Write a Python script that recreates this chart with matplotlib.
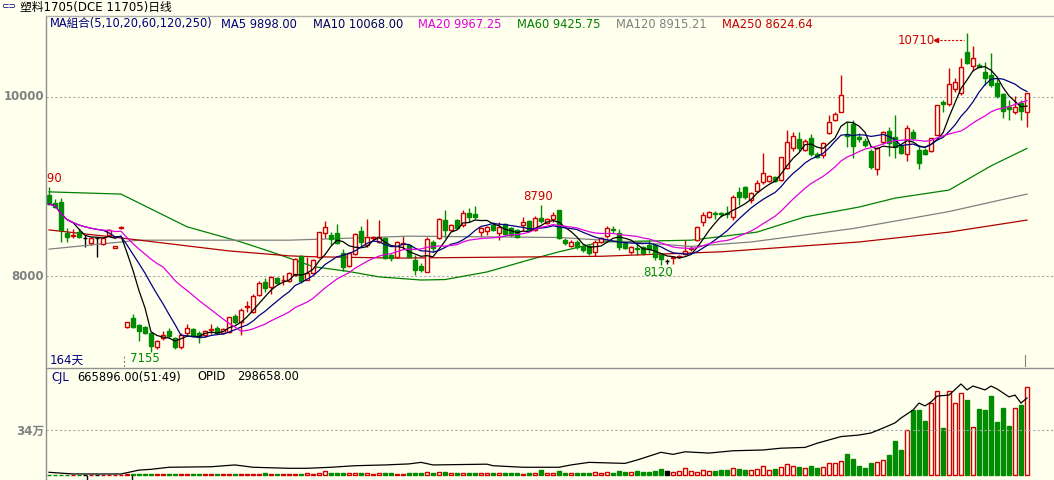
import matplotlib
matplotlib.use('Agg')
import matplotlib.pyplot as plt
from matplotlib.patches import Rectangle
from matplotlib.transforms import ScaledTranslation
import numpy as np
import pandas as pd

plt.rcParams['font.family'] = ['DejaVu Sans', 'Noto Sans CJK SC']

W, H = 1054, 480
BG = '#FFFFEE'
RED = '#D00000'
GREEN = '#008C00'

# daily OHLC, 164 trading days
opens = [8905, 8815, 8826, 8480, 8450, 8490, 8430, 8370, 8420, 8360, 8460, 8315, 8535,
         7430, 7530, 7450, 7430, 7365, 7205, 7310, 7385, 7310, 7205, 7365, 7410, 7365, 7340, 7400, 7420, 7365,
         7375, 7555, 7485, 7650, 7600, 7790, 7930, 7875, 7975, 7950, 7945, 8010, 8225, 7960, 8030, 8210,
         8480, 8460, 8480, 8255, 8110, 8245, 8500, 8345, 8420, 8380, 8425, 8235, 8210, 8360, 8345, 8180,
         8110, 8045, 8380, 8425, 8625, 8515, 8625, 8570, 8705, 8690, 8490, 8500, 8570, 8480, 8580, 8535,
         8515, 8570, 8615, 8515, 8650, 8590, 8635, 8735, 8400, 8335, 8380, 8335, 8335, 8270, 8380, 8445,
         8520, 8480, 8370, 8270, 8310, 8325, 8345, 8345, 8235, 8165, 8200, 8215, 8245, 8300, 8400, 8600,
         8660, 8700, 8700, 8700, 8660, 8940, 8995, 8850, 8950, 9050, 9060, 9105, 9070, 9205, 9430, 9530,
         9410, 9540, 9365, 9350, 9600, 9740, 9830, 9585, 9700, 9550, 9510, 9400, 9195, 9500, 9620, 9550,
         9450, 9365, 9610, 9410, 9410, 9395, 9575, 9945, 9920, 10090, 10045, 10500, 10345, 10360, 10280,
         10245, 10155, 10030, 9890, 9830, 9935, 9830]
highs = [8990, 8860, 8870, 8535, 8520, 8520, 8460, 8440, 8430, 8430, 8520, 8335, 8555,
         7490, 7575, 7460, 7440, 7370, 7290, 7380, 7420, 7320, 7360, 7460, 7420, 7380, 7400, 7460, 7440, 7420,
         7545, 7580, 7640, 7720, 7800, 7940, 7975, 8000, 7990, 8010, 8050, 8200, 8235, 8210, 8190, 8495,
         8610, 8490, 8580, 8300, 8265, 8480, 8560, 8635, 8450, 8620, 8440, 8245, 8390, 8450, 8360, 8230,
         8140, 8435, 8400, 8650, 8735, 8580, 8640, 8740, 8760, 8780, 8550, 8560, 8600, 8600, 8590, 8550,
         8530, 8660, 8630, 8670, 8790, 8650, 8710, 8740, 8420, 8400, 8400, 8350, 8345, 8400, 8440, 8560,
         8560, 8520, 8390, 8340, 8370, 8340, 8400, 8360, 8250, 8190, 8225, 8240, 8400, 8335, 8555, 8710,
         8730, 8730, 8720, 8785, 8905, 8990, 9010, 8935, 9070, 9375, 9125, 9120, 9335, 9630, 9610, 9610,
         9530, 9590, 9380, 9500, 9800, 9830, 10245, 9720, 9745, 9600, 9540, 9420, 9440, 9620, 9660, 9800,
         9460, 9690, 9640, 9450, 9430, 9545, 9910, 9965, 10320, 10210, 10435, 10710, 10570, 10380, 10390,
         10490, 10210, 10040, 9965, 10010, 9965, 10045]
lows = [8795, 8760, 8380, 8380, 8420, 8420, 8320, 8350, 8210, 8350, 8450, 8310, 8530,
        7420, 7420, 7275, 7350, 7155, 7180, 7290, 7310, 7180, 7180, 7330, 7320, 7250, 7320, 7350, 7350, 7350,
        7360, 7460, 7340, 7600, 7590, 7780, 7820, 7800, 7910, 7900, 7930, 8000, 7920, 7950, 8020, 8200,
        8420, 8350, 8360, 8055, 8100, 8240, 8320, 8320, 8400, 8370, 8190, 8170, 8200, 8300, 8200, 8010,
        8040, 8040, 8270, 8410, 8420, 8500, 8520, 8550, 8600, 8640, 8440, 8460, 8500, 8400, 8450, 8440,
        8420, 8500, 8500, 8500, 8590, 8580, 8600, 8410, 8350, 8320, 8300, 8270, 8240, 8220, 8370, 8430,
        8480, 8290, 8300, 8250, 8240, 8240, 8260, 8180, 8120, 8135, 8130, 8200, 8235, 8280, 8390, 8560,
        8650, 8640, 8660, 8650, 8620, 8790, 8855, 8815, 8940, 9030, 9050, 9050, 9065, 9190, 9400, 9400,
        9400, 9340, 9320, 9320, 9590, 9730, 9830, 9440, 9320, 9500, 9440, 9200, 9130, 9480, 9340, 9320,
        9360, 9290, 9520, 9190, 9350, 9385, 9570, 9830, 9900, 10060, 10020, 10370, 10290, 10330, 10130,
        10110, 9990, 9765, 9740, 9810, 9740, 9665]
closes = [8804, 8770, 8514, 8435, 8460, 8435, 8430, 8420, 8420, 8420, 8515, 8330, 8550,
          7485, 7430, 7385, 7365, 7220, 7275, 7340, 7330, 7205, 7340, 7420, 7330, 7320, 7385, 7410, 7365, 7410,
          7540, 7485, 7620, 7660, 7775, 7920, 7865, 7990, 7920, 7960, 8030, 8190, 7945, 8030, 8180, 8490,
          8545, 8415, 8370, 8100, 8255, 8470, 8380, 8435, 8435, 8435, 8200, 8200, 8380, 8370, 8210, 8070,
          8070, 8415, 8310, 8640, 8515, 8570, 8535, 8705, 8660, 8660, 8535, 8545, 8515, 8545, 8470, 8460,
          8435, 8600, 8515, 8650, 8615, 8635, 8680, 8425, 8365, 8380, 8325, 8290, 8255, 8380, 8425, 8535,
          8510, 8325, 8310, 8325, 8300, 8255, 8300, 8210, 8190, 8165, 8215, 8225, 8280, 8315, 8550, 8680,
          8715, 8690, 8690, 8690, 8885, 8885, 8885, 8925, 9040, 9150, 9115, 9060, 9330, 9500, 9565, 9430,
          9510, 9365, 9330, 9485, 9720, 9810, 10020, 9565, 9450, 9530, 9465, 9220, 9430, 9610, 9485, 9440,
          9375, 9650, 9540, 9260, 9365, 9540, 9910, 9920, 10145, 10170, 10335, 10380, 10435, 10335, 10210,
          10135, 10010, 9845, 9865, 9890, 9845, 10045]
volumes = [1200, 900, 1500, 800, 700, 900, 600, 800, 1000, 700, 900, 400, 500,
           5000, 7000, 6500, 6000, 9000, 7000, 6000, 5500, 7000, 6500, 6000, 7000, 6000, 5500, 6000, 6500,
           5000, 8000, 9000, 10000, 7000, 8000, 11000, 12000, 9000, 10000, 8000, 9000, 10000, 11000, 14000,
           10000, 12000, 28000, 15000, 12000, 14000, 16000, 14000, 12000, 15000, 11000, 13000, 18000, 12000,
           11000, 10000, 12000, 16000, 18000, 24000, 14000, 20000, 22000, 15000, 13000, 16000, 14000, 12000,
           15000, 14000, 13000, 18000, 16000, 12000, 14000, 11000, 16000, 15000, 36000, 17000, 16000, 30000,
           15000, 13000, 12000, 14000, 16000, 20000, 18000, 22000, 19000, 28000, 24000, 20000, 30000, 26000,
           22000, 28000, 45000, 30000, 26000, 32000, 50000, 28000, 22000, 40000, 30000, 32000, 36000, 38000,
           52000, 42000, 36000, 40000, 42000, 70000, 40000, 44000, 62000, 80000, 70000, 60000, 56000, 72000,
           52000, 60000, 88000, 90000, 110000, 160000, 121000, 68000, 53000, 91000, 101000, 113000, 151000,
           257000, 189000, 340000, 491000, 491000, 408000, 544000, 642000, 355000, 642000, 551000, 627000,
           567000, 363000, 499000, 491000, 604000, 400000, 506000, 370000, 506000, 536000, 665896]

# long moving averages (day index, value)
ma60_idx = [0, 12, 23, 32, 37, 40, 44, 50, 55, 62, 66, 73, 80, 85, 92, 107, 118, 126, 135, 141, 150, 157, 163]
ma60_val = [8940, 8915, 8550, 8380, 8270, 8200, 8105, 8050, 7990, 7955, 7960, 8045, 8180, 8270, 8380,
            8400, 8490, 8660, 8770, 8870, 8960, 9230, 9425.75]
ma120_idx = [0, 15, 40, 60, 85, 95, 107, 117, 134, 150, 163]
ma120_val = [8300, 8400, 8400, 8445, 8430, 8390, 8330, 8380, 8530, 8720, 8915.21]
ma250_idx = [0, 12, 30, 40, 44, 58, 92, 112, 135, 150, 163]
ma250_val = [8515, 8425, 8280, 8225, 8215, 8200, 8220, 8270, 8380, 8490, 8624.64]

# open interest
opid_idx = [0, 4, 12, 15, 17, 20, 27, 31, 34, 40, 43, 47, 51, 56, 60, 62, 64, 73, 74, 79, 85, 87, 90, 96,
            98, 102, 104, 106, 110, 114, 119, 122, 126, 128, 132, 135, 137, 139, 141, 142, 144, 145, 146,
            147, 148, 150, 152, 153, 154, 156, 157, 158, 160, 161, 162, 163]
opid_val = [10500, 4000, 4000, 19000, 22000, 30000, 32000, 39000, 30000, 26000, 26000, 30000, 36000,
            39000, 43000, 49000, 39000, 42000, 36000, 30000, 30000, 39000, 49000, 45000, 58000, 88000,
            80000, 90000, 85000, 94000, 97000, 104000, 107000, 123000, 149000, 155000, 163000, 182000,
            202000, 221000, 252000, 279000, 268000, 283000, 306000, 310000, 353000, 330000, 345000, 330000,
            345000, 334000, 303000, 310000, 279000, 298658]

n = len(closes)
x = np.arange(n)
cl = pd.Series(closes, dtype=float)
ma5 = cl.rolling(5, min_periods=1).mean()
ma10 = cl.rolling(10, min_periods=1).mean()
ma20 = cl.rolling(20, min_periods=1).mean()


def fx(px):
    return px / W


def fy(py):
    return 1 - py / H


fig = plt.figure(figsize=(W / 100, H / 100), dpi=100, facecolor=BG)
ax = fig.add_axes([fx(46), fy(367), fx(1054) - fx(46), fy(16) - fy(367)])
axv = fig.add_axes([fx(46), 0, fx(1054) - fx(46), fy(368)])
for a in (ax, axv):
    a.set_facecolor(BG)
    a.set_xlim(-0.5, 167.5)
    a.set_xticks([])
    a.set_yticks([])
    for s in a.spines.values():
        s.set_visible(False)
ax.set_ylim(6983, 10905)
axv.set_ylim(-38000, 814000)

# grid
for lv in (8000, 10000):
    ax.axhline(lv, color='#A8A8A8', lw=0.8, ls=(0, (2, 2)))
axv.axhline(340000, color='#A8A8A8', lw=0.8, ls=(0, (2, 2)))

bw = 0.72
for i in range(n):
    o, h, l, c = opens[i], highs[i], lows[i], closes[i]
    if c > o:
        ax.vlines(i, c, h, color=RED, lw=1)
        ax.vlines(i, l, o, color=RED, lw=1)
        ax.add_patch(Rectangle((i - bw / 2, o), bw, c - o, fc=BG, ec=RED, lw=1, zorder=3))
        vc, vfill = RED, False
    elif c < o:
        ax.vlines(i, l, h, color=GREEN, lw=1)
        ax.add_patch(Rectangle((i - bw / 2, c), bw, o - c, fc=GREEN, ec=GREEN, lw=1, zorder=3))
        vc, vfill = GREEN, True
    else:
        ax.vlines(i, l, h, color='black', lw=1)
        ax.hlines(o, i - bw / 2, i + bw / 2, color='black', lw=1)
        vc, vfill = 'black', True
    axv.add_patch(Rectangle((i - bw / 2, 0), bw, volumes[i], fc=vc if vfill else BG, ec=vc, lw=1))

ax.plot(x, ma5, color='black', lw=0.9, zorder=4)
ax.plot(x, ma10, color='#000080', lw=0.9, zorder=4)
ax.plot(x, ma20, color='#E000E0', lw=0.9, zorder=4)
ax.plot(ma60_idx, ma60_val, color='#008000', lw=0.9, zorder=2)
ax.plot(ma120_idx, ma120_val, color='#808080', lw=0.9, zorder=2)
ax.plot(ma250_idx, ma250_val, color='#B00000', lw=0.9, zorder=2)

axo = axv.twinx()
axo.set_ylim(-19400, 415000)
axo.set_yticks([])
for s in axo.spines.values():
    s.set_visible(False)
axo.plot(opid_idx, opid_val, color='black', lw=0.9)

# marker lines
ax.axvline(12.5, ymin=0, ymax=0.03, color='#808080', lw=0.8, ls=(0, (2, 2)))
ax.axvline(162.7, ymin=0, ymax=0.035, color='#808080', lw=0.8)

# extreme price labels
ax.annotate('8990', xy=(0, 8990), xytext=(13, 9), textcoords='offset pixels', ha='right', va='center',
            color=RED, fontsize=8.5, clip_on=True)
ax.annotate('7155', xy=(17, 7155), xytext=(-6, -7), textcoords='offset pixels', ha='center',
            va='center', color=GREEN, fontsize=8.5)
ax.annotate('8120', xy=(102, 8120), xytext=(-3, -7), textcoords='offset pixels', ha='center',
            va='center', color=GREEN, fontsize=8.5)
ax.annotate('8790', xy=(82, 8790), xytext=(-3, 9), textcoords='offset pixels', ha='center',
            va='center', color=RED, fontsize=8.5)
ax.annotate('10710', xy=(153, 10710), xytext=(-32, -7), textcoords='offset pixels', ha='right',
            va='center', color=RED, fontsize=8.5)
tr = ax.transData + ScaledTranslation(0, -7 / 100, fig.dpi_scale_trans)
off = ScaledTranslation(-3 / 100, 0, fig.dpi_scale_trans)
ax.plot([153 - 28 / 6, 153], [10710, 10710], color=RED, lw=0.8, ls=(0, (2, 1.5)), transform=tr + off)
ax.plot([153 - 28 / 6], [10710], marker='<', ms=3, color=RED, transform=tr + off)
ax.text(0.1, 7060, '164天', color='#000080', fontsize=8.5, va='center')

# frame lines
fig.add_artist(plt.Line2D([fx(46), fx(46)], [0, fy(16)], color='#909090', lw=1))
fig.add_artist(plt.Line2D([fx(46), 1], [fy(16), fy(16)], color='#B0B0B0', lw=1))
fig.add_artist(plt.Line2D([fx(46), 1], [fy(367.5), fy(367.5)], color='#909090', lw=1))
for tx in (87, 132):
    fig.add_artist(plt.Line2D([fx(tx), fx(tx)], [0, fy(476)], color='black', lw=1))

# left axis labels
lab = dict(color='#808080', fontsize=8.5, fontweight='bold', ha='right', va='center')
fig.text(fx(44), fy(276), '8000', **lab)
fig.text(fx(44), fy(97), '10000', **lab)
fig.text(fx(44), fy(431), '34万', **lab)

# header
fig.text(fx(1), fy(7), '⊂⊃', fontsize=6.5, color='#000080', va='center')
fig.text(fx(20), fy(7), '塑料1705(DCE 11705)日线', fontsize=8.5, color='black', va='center')

legend_items = [(50, 'MA組合(5,10,20,60,120,250)', '#000080'), (221, 'MA5 9898.00', '#000080'),
                (313, 'MA10 10068.00', '#000060'), (418, 'MA20 9967.25', '#E000E0'),
                (517, 'MA60 9425.75', '#008000'), (616, 'MA120 8915.21', '#808080'),
                (722, 'MA250 8624.64', '#C00000')]
for px, t, col in legend_items:
    fig.text(fx(px), fy(24), t, fontsize=8.3, color=col, va='center')

fig.text(fx(51), fy(377), 'CJL', fontsize=8.3, color='#000080', va='center')
fig.text(fx(77), fy(377), '665896.00(51:49)', fontsize=8.3, color='black', va='center')
fig.text(fx(197), fy(377), 'OPID', fontsize=8.3, color='black', va='center')
fig.text(fx(237), fy(377), '298658.00', fontsize=8.3, color='black', va='center')

fig.savefig('out.png', dpi=100, facecolor=BG)
